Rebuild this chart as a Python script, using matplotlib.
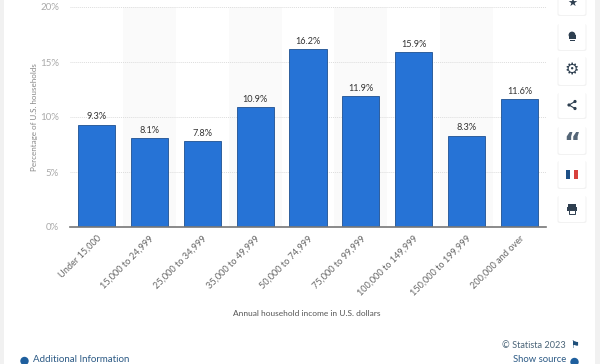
import matplotlib
matplotlib.use('Agg')
import matplotlib.pyplot as plt
from matplotlib.patches import FancyBboxPatch, Rectangle, Circle
from matplotlib.transforms import ScaledTranslation

categories = ['Under 15,000', '15,000 to 24,999', '25,000 to 34,999', '35,000 to 49,999',
              '50,000 to 74,999', '75,000 to 99,999', '100,000 to 149,999',
              '150,000 to 199,999', '200,000 and over']
shares = [9.3, 8.1, 7.8, 10.9, 16.2, 11.9, 15.9, 8.3, 11.6]
y_ticks = [0, 5, 10, 15, 20]

W, H = 600, 364
plt.rcParams['font.family'] = ['Lato', 'DejaVu Sans']

fig = plt.figure(figsize=(W/100, H/100), dpi=100)

# overlay in pixel coordinates for the page furniture
page = fig.add_axes([0, 0, 1, 1], zorder=0)
page.set_xlim(0, W)
page.set_ylim(H, 0)
page.axis('off')
page.add_patch(Rectangle((0, 0), 3.5, H, color='#f1f1f1', lw=0))
page.add_patch(Rectangle((595, 0), 5, H, color='#f1f1f1', lw=0))

ax = fig.add_axes([70/W, 1 - 227/H, 476/W, 220/H], zorder=1)
ax.patch.set_alpha(0)
x = list(range(len(categories)))
for i in x:
    if i % 2 == 1:
        ax.axvspan(i - 0.5, i + 0.5, color='#fafafa', lw=0, zorder=0)
ax.bar(x, shares, width=0.7, color='#2673d6', edgecolor='#1e5091', linewidth=0.6, zorder=3)
for i, v in zip(x, shares):
    ax.text(i, v + 0.3, f'{v}%', ha='center', va='bottom', fontsize=6.6, color='#333333', zorder=4)

ax.set_xlim(-0.5, 8.5)
ax.set_ylim(0, 20)
ax.set_yticks(y_ticks)
ax.set_yticklabels([f'{t}%' for t in y_ticks], fontsize=7, color='#aaaaaa')
ax.set_xticks(x)
ax.set_xticklabels(categories, rotation=45, ha='right', rotation_mode='anchor',
                   fontsize=6.6, color='#666666')
# nudge the slanted labels left and down a little
nudge = ScaledTranslation(-2/100, -1/100, fig.dpi_scale_trans)
for lab in ax.get_xticklabels():
    lab.set_transform(lab.get_transform() + nudge)
ax.tick_params(axis='both', length=0)
ax.tick_params(axis='y', pad=8)
ax.tick_params(axis='x', pad=5)
ax.grid(axis='y', color='#dddddd', linewidth=0.7, linestyle=(0, (1, 1)), zorder=1)
for s in ['top', 'right', 'left']:
    ax.spines[s].set_visible(False)
ax.spines['bottom'].set_color('#777777')
ax.spines['bottom'].set_linewidth(1.2)
ax.spines['bottom'].set_zorder(5)

page.text(34, 117, 'Percentage of U.S. households', rotation=90, ha='center', va='center',
          fontsize=5.8, color='#888888')
page.text(307, 314, 'Annual household income in U.S. dollars', ha='center', va='center',
          fontsize=6.05, color='#555555')
page.text(566, 345, '© Statista 2023', ha='right', va='center', fontsize=6.6, color='#4a6478')
page.text(566, 359.5, 'Show source', ha='right', va='center', fontsize=6.8, color='#2c5a85')
page.text(33, 359.5, 'Additional Information', ha='left', va='center', fontsize=7, color='#2c5a85')
page.add_patch(Circle((24.5, 361), 4.2, color='#1f5f9e', lw=0))
page.add_patch(Circle((574.5, 362), 4.2, color='#1f5f9e', lw=0))
page.text(574.5, 345, '⚑', ha='center', va='center', fontsize=7, color='#1f4f7a', family='DejaVu Sans')

# side buttons: (top, bottom) in pixels
button_edges = [(-12, 15), (23, 50), (56, 85), (92, 118), (126, 154), (160, 188), (195, 222)]
for top, bottom in button_edges:
    page.add_patch(FancyBboxPatch((557.5, top + 1), 29, bottom - top, boxstyle='round,pad=0,rounding_size=2',
                                  fc='#f2f2f2', ec='none', zorder=1))
    page.add_patch(FancyBboxPatch((558.5, top), 27, bottom - top, boxstyle='round,pad=0,rounding_size=2',
                                  fc='white', ec='none', zorder=2))
dark = '#2e3f50'
page.text(572, 4, '★', ha='center', va='center', fontsize=8, color=dark, family='DejaVu Sans', zorder=3)
page.add_patch(Circle((572, 35), 3.4, color=dark, lw=0, zorder=3))
page.add_patch(Rectangle((568.5, 35), 7, 4, color=dark, lw=0, zorder=3))
page.add_patch(Rectangle((569.5, 40), 5, 0.9, color=dark, lw=0, zorder=3))
page.text(572, 70, '⚙', ha='center', va='center', fontsize=11.5, color=dark, family='DejaVu Sans', zorder=3)
for px, py in [(569, 105), (575, 101.5), (575, 108.5)]:
    page.add_patch(Circle((px, py), 1.6, color=dark, lw=0, zorder=3))
page.plot([575, 569, 575], [101.5, 105, 108.5], color=dark, lw=0.8, zorder=3)
page.text(572, 145, '“', ha='center', va='center', fontsize=19, fontweight='bold', color='#556677',
          family='DejaVu Sans', zorder=3)
page.add_patch(Rectangle((566, 170), 4, 8.5, color='#1d4f86', lw=0, zorder=3))
page.add_patch(Rectangle((574, 170), 4, 8.5, color='#d8413c', lw=0, zorder=3))
page.add_patch(Rectangle((568, 204), 8, 3, color=dark, lw=0, zorder=3))
page.add_patch(Rectangle((567, 207), 10, 4, color=dark, lw=0, zorder=3))
page.add_patch(Rectangle((569, 210), 6, 3.5, fc='white', ec=dark, lw=0.7, zorder=3))
page.set_xlim(0, W)
page.set_ylim(H, 0)

fig.savefig('out.png', dpi=100)
